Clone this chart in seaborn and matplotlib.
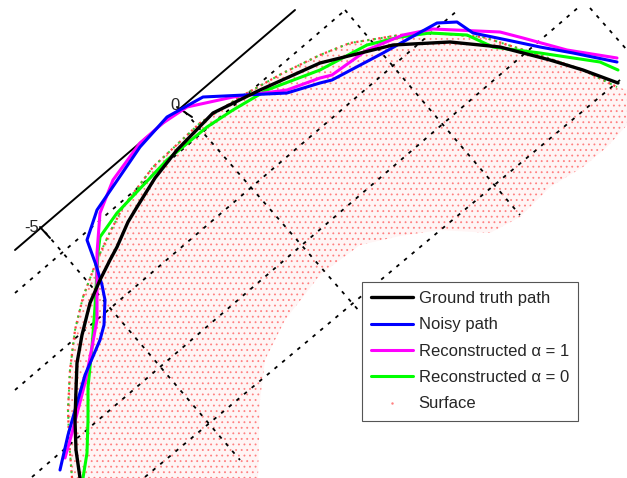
import numpy as np
import pandas as pd
import matplotlib
matplotlib.use("Agg")
import matplotlib.pyplot as plt
from matplotlib.lines import Line2D
from matplotlib.patches import Polygon
import seaborn as sns

# ---- data (image-plane coordinates) ----
truth_x = [80, 76, 75, 76, 77, 82, 90, 100, 110, 117, 128, 137, 155, 177, 213, 260, 320, 393, 450, 500, 550, 583, 618]
truth_y = [478, 450, 420, 390, 363, 335, 303, 280, 260, 247, 222, 207, 178, 150, 113, 90, 63, 45, 42, 47, 60, 70, 83]

noisy_x = [60, 68, 85, 100, 104, 105, 102, 96, 87, 97, 140, 167, 203, 287, 320, 332, 383, 437, 457, 473, 507, 540, 573, 617]
noisy_y = [470, 435, 375, 340, 325, 300, 285, 265, 240, 210, 147, 117, 97, 93, 83, 80, 53, 23, 22, 33, 40, 47, 53, 62]

rec1_x = [65, 72, 85, 92, 97, 97, 97, 100, 113, 140, 163, 187, 233, 287, 320, 332, 367, 403, 433, 500, 523, 567, 617]
rec1_y = [458, 433, 383, 347, 320, 285, 253, 213, 180, 143, 123, 107, 97, 90, 78, 75, 50, 35, 29, 32, 38, 50, 58]

rec0_x = [83, 87, 88, 88, 92, 95, 98, 100, 117, 167, 207, 233, 267, 320, 367, 400, 430, 467, 493, 540, 600, 618]
rec0_y = [478, 453, 420, 387, 347, 307, 253, 237, 213, 160, 127, 110, 90, 70, 45, 37, 33, 35, 47, 53, 62, 70]

rim_x = [72, 69, 68, 70, 75, 83, 97, 110, 123, 153, 200, 240, 283, 320, 350, 400, 433, 483, 533, 583, 617]
rim_y = [478, 440, 410, 370, 330, 297, 260, 232, 207, 167, 123, 97, 73, 55, 43, 35, 33, 37, 53, 70, 87]

surf_edge_x = [627, 627, 607, 583, 550, 520, 490, 440, 400, 360, 320, 285, 265, 260, 258]
surf_edge_y = [90, 125, 147, 167, 187, 217, 233, 230, 236, 245, 275, 320, 360, 400, 478]

grid_x0 = [15, 15, 32, 145, 45, 185, 345, 590]
grid_y0 = [293, 390, 477, 477, 232, 112, 10, 8]
grid_x1 = [343, 458, 580, 620, 240, 360, 520, 627]
grid_y1 = [12, 10, 6, 80, 460, 312, 215, 50]

axis_line_x = [15, 295]
axis_line_y = [250, 10]
tick_labels = ["-5", "0"]
tick_x0 = [40, 177]
tick_y0 = [227, 107]
tick_x1 = [50, 192]
tick_y1 = [238, 117]
label_x = [32, 175]
label_y = [227, 105]

legend_labels = ["Ground truth path", "Noisy path", "Reconstructed \u03b1 = 1",
                 "Reconstructed \u03b1 = 0", "Surface"]

# ---- figure ----
sns.set_style("white")
plt.rcParams["font.family"] = ["Liberation Sans", "DejaVu Sans"]
plt.rcParams["hatch.linewidth"] = 0.6

fig = plt.figure(figsize=(6.27, 4.78), dpi=100)
ax = fig.add_axes([0, 0, 1, 1])

# surface (point cloud rendered as a dotted region)
poly_pts = list(zip(rim_x, rim_y)) + list(zip(surf_edge_x, surf_edge_y))
surf = Polygon(poly_pts, closed=True, facecolor="#fff5f5", edgecolor="#ff8080",
               hatch="...", linewidth=0, zorder=1)
ax.add_patch(surf)

# grid (dotted)
for x0, y0, x1, y1 in zip(grid_x0, grid_y0, grid_x1, grid_y1):
    ax.plot([x0, x1], [y0, y1], color="black", lw=1.3, linestyle=(0, (2, 3.5)), zorder=2)

# axis line with ticks
ax.plot(axis_line_x, axis_line_y, color="black", lw=1.4, zorder=3)
for x0, y0, x1, y1 in zip(tick_x0, tick_y0, tick_x1, tick_y1):
    ax.plot([x0, x1], [y0, y1], color="black", lw=1.4, zorder=3)
for t, x, y in zip(tick_labels, label_x, label_y):
    ax.text(x, y, t, fontsize=12, ha="center", va="center", zorder=3)

# rim of the surface (dense green/red points)
ax.plot(rim_x, rim_y, color="#ff4040", lw=1.6, linestyle=(0, (1, 1.5)), zorder=4)
ax.plot(rim_x, rim_y, color="#30d030", lw=1.4, linestyle=(1, (1, 2.5)), zorder=4)

# paths
sns.lineplot(x=rec0_x, y=rec0_y, sort=False, estimator=None, color="#00ff00", lw=2.2, ax=ax, zorder=5)
sns.lineplot(x=rec1_x, y=rec1_y, sort=False, estimator=None, color="#ff00ff", lw=2.2, ax=ax, zorder=5)
sns.lineplot(x=noisy_x, y=noisy_y, sort=False, estimator=None, color="#0000ff", lw=2.2, ax=ax, zorder=5)
sns.lineplot(x=truth_x, y=truth_y, sort=False, estimator=None, color="black", lw=2.4, ax=ax, zorder=6)
ax.set_xlim(0, 627)
ax.set_ylim(478, 0)
ax.axis("off")

handles = [
    Line2D([], [], color="black", lw=2.4),
    Line2D([], [], color="#0000ff", lw=2.2),
    Line2D([], [], color="#ff00ff", lw=2.2),
    Line2D([], [], color="#00ff00", lw=2.2),
    Line2D([], [], color="#ff8080", marker=".", markersize=1.5, linestyle="none"),
]
leg = fig.legend(handles, legend_labels, loc="upper left",
                 bbox_to_anchor=(362 / 627, 1 - 282 / 478), fontsize=12,
                 frameon=True, fancybox=False, framealpha=1, edgecolor="#555555",
                 handlelength=2.5, handletextpad=0.35, labelspacing=0.68,
                 borderpad=0.55, borderaxespad=0)
leg.get_frame().set_linewidth(0.8)

fig.savefig("out.png", dpi=100)
